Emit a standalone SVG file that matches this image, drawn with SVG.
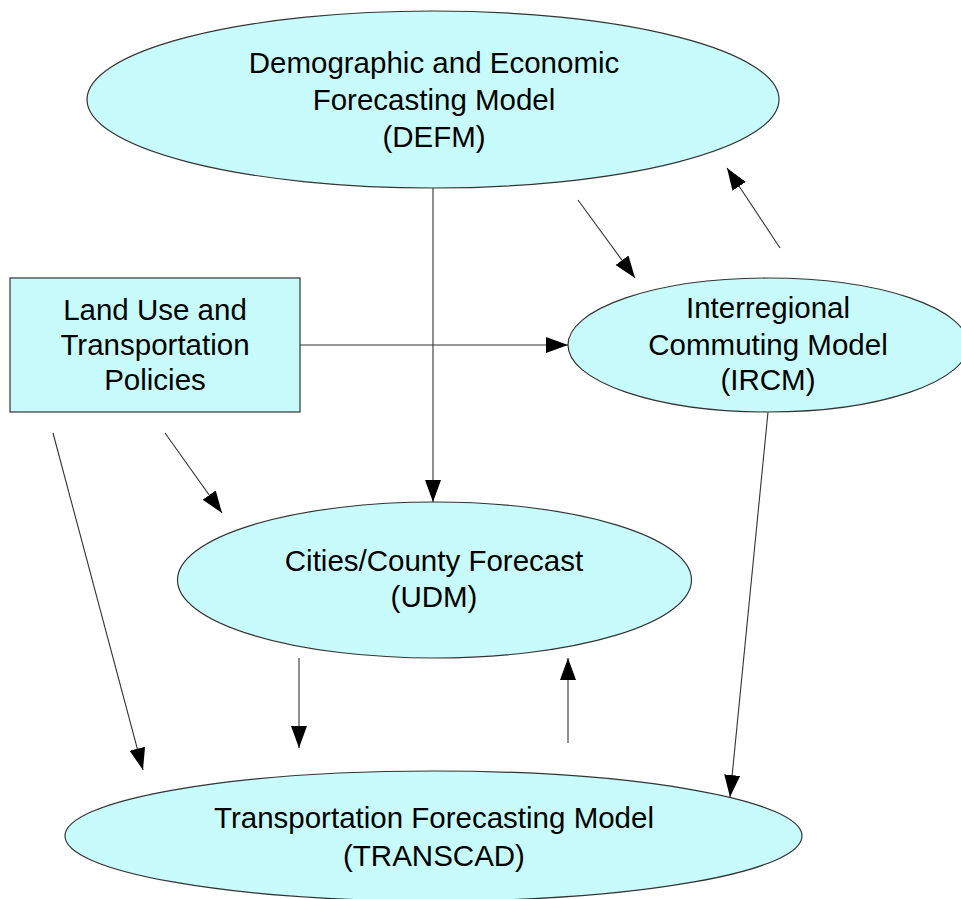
<svg xmlns="http://www.w3.org/2000/svg" width="961" height="899" viewBox="0 0 961 899">
<defs>
<marker id="ah" markerUnits="userSpaceOnUse" markerWidth="24" markerHeight="18" refX="22" refY="8" orient="auto" viewBox="0 0 24 18">
<path d="M0,0 L22,8 L0,16 z" fill="#000"/>
</marker>
<style>
.shape{fill:#C8FCFC;stroke:#333;stroke-width:1.2}
.lbl{font-family:"Liberation Sans",Arial,sans-serif;font-size:29.5px;fill:#000;text-anchor:middle}
.conn line{stroke:#333;stroke-width:1.1;marker-end:url(#ah)}
</style>
</defs>
<rect width="961" height="899" fill="#fff"/>
<g id="defm">
<ellipse class="shape" cx="433" cy="99.5" rx="346" ry="88.5"/>
<text class="lbl" x="434" y="73">Demographic and Economic</text>
<text class="lbl" x="434" y="110">Forecasting Model</text>
<text class="lbl" x="434" y="147">(DEFM)</text>
</g>
<g id="policies">
<rect class="shape" x="10" y="278" width="290" height="134"/>
<text class="lbl" x="155" y="320">Land Use and</text>
<text class="lbl" x="155" y="355">Transportation</text>
<text class="lbl" x="155" y="390">Policies</text>
</g>
<g id="ircm">
<ellipse class="shape" cx="768" cy="345" rx="200" ry="67"/>
<text class="lbl" x="768" y="318">Interregional</text>
<text class="lbl" x="768" y="355">Commuting Model</text>
<text class="lbl" x="768" y="390">(IRCM)</text>
</g>
<g id="udm">
<ellipse class="shape" cx="434.5" cy="580" rx="257" ry="78"/>
<text class="lbl" x="434" y="571">Cities/County Forecast</text>
<text class="lbl" x="434" y="607">(UDM)</text>
</g>
<g id="transcad">
<ellipse class="shape" cx="433.5" cy="836" rx="368.5" ry="65"/>
<text class="lbl" x="434" y="828">Transportation Forecasting Model</text>
<text class="lbl" x="434" y="866">(TRANSCAD)</text>
</g>
<g id="connectors" class="conn">
<line x1="433" y1="188" x2="433" y2="502"/>
<line x1="300" y1="345" x2="568" y2="345"/>
<line x1="578" y1="200" x2="635" y2="278"/>
<line x1="780" y1="248" x2="727" y2="168"/>
<line x1="165" y1="433" x2="222" y2="513"/>
<line x1="53" y1="433" x2="143" y2="770"/>
<line x1="768" y1="412" x2="730" y2="797"/>
<line x1="299" y1="658" x2="299" y2="748"/>
<line x1="568" y1="743" x2="568" y2="658"/>
</g>
</svg>
